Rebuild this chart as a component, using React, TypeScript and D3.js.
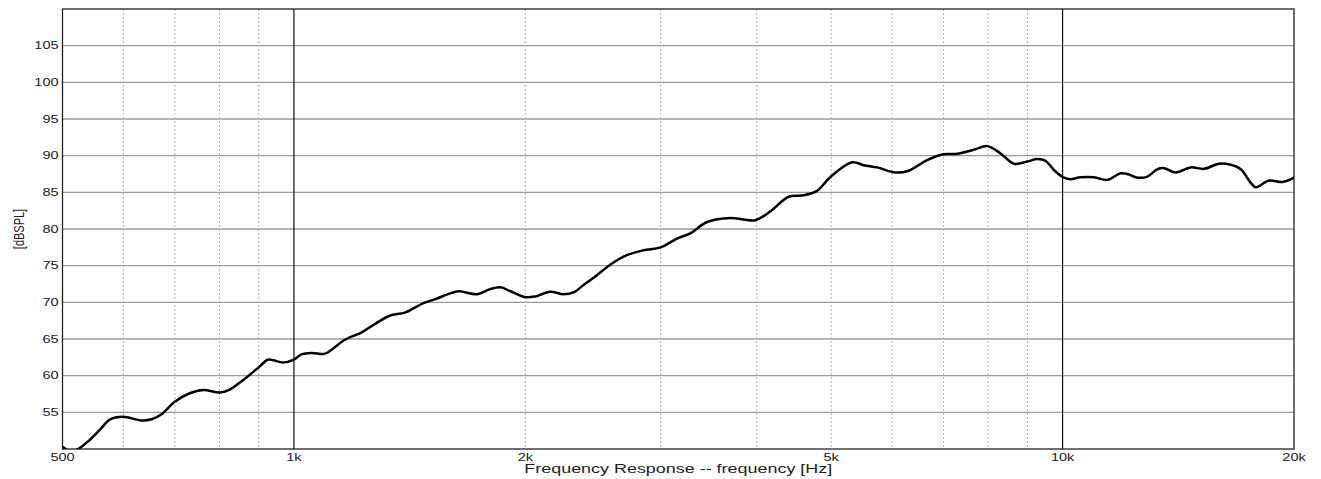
import React from 'react';
import * as d3 from 'd3';

// Frequency response samples
const FREQ_HZ = [
  500, 511, 522, 542, 559, 576, 599, 633, 653, 672, 700, 732, 762, 801, 825, 859, 899, 926, 940, 968,
  1000, 1023, 1054, 1092, 1108, 1165, 1225, 1275, 1334, 1395, 1474, 1534, 1581, 1637, 1730, 1800, 1855, 1911,
  2000, 2060, 2154, 2242, 2311, 2381, 2478, 2593, 2712, 2850, 3000, 3150, 3278, 3447, 3697, 3846, 3984,
  4167, 4401, 4604, 4793, 4988, 5324, 5513, 5738, 6060, 6307, 6664, 7004, 7293, 7664, 7980, 8305, 8643,
  8995, 9270, 9504, 9743, 10040, 10242, 10554, 10985, 11436, 11900, 12141, 12512, 12893, 13285, 13551,
  14034, 14678, 15276, 15976, 16548, 17051, 17570, 17835, 18560, 19322, 20000,
];
const SPL_DB = [
  50.3, 49.7, 49.9, 51.2, 52.6, 54.0, 54.4, 53.9, 54.05, 54.7, 56.45, 57.6, 58.05, 57.7, 58.1, 59.4, 61.1, 62.2, 62.1, 61.8,
  62.2, 62.9, 63.1, 62.95, 63.2, 64.9, 65.9, 67.05, 68.2, 68.6, 69.9, 70.5, 71.05, 71.5, 71.1, 71.8, 72.05, 71.55,
  70.7, 70.8, 71.45, 71.1, 71.35, 72.35, 73.7, 75.3, 76.45, 77.1, 77.5, 78.7, 79.4, 80.95, 81.5, 81.3, 81.2,
  82.4, 84.4, 84.6, 85.2, 87.1, 89.1, 88.7, 88.4, 87.7, 87.95, 89.4, 90.2, 90.25, 90.8, 91.3, 90.3, 88.9,
  89.2, 89.55, 89.3, 88.05, 87.0, 86.8, 87.05, 87.05, 86.7, 87.6, 87.5, 87.0, 87.15, 88.15, 88.3,
  87.7, 88.4, 88.2, 88.9, 88.75, 88.15, 86.3, 85.7, 86.6, 86.4, 87.0,
];

const X_LABEL_TICKS = [500, 1000, 2000, 5000, 10000, 20000];
const X_LABELS = ['500', '1k', '2k', '5k', '10k', '20k'];
const X_MINOR_GRID = [600, 700, 800, 900, 2000, 3000, 4000, 5000, 6000, 7000, 8000, 9000];
const X_MAJOR_GRID = [1000, 10000];
const Y_TICKS = [55, 60, 65, 70, 75, 80, 85, 90, 95, 100, 105];

const W = 1321;
const H = 479;
const margin = { top: 9, right: 27, bottom: 30, left: 62.5 };
const FONT = '"Liberation Sans", Arial, sans-serif';
const SX = 1.38; // text in the reference is stretched horizontally

export default function App() {
  const x = d3.scaleLog().domain([500, 20000]).range([margin.left, W - margin.right]);
  const y = d3.scaleLinear().domain([50, 110]).range([H - margin.bottom, margin.top]);
  const [x0, x1] = x.range();
  const [yb, yt] = y.range();

  const pts = FREQ_HZ.map((f, i) => [f, SPL_DB[i]] as [number, number]);
  const line = d3.line<[number, number]>()
    .x((d) => x(d[0]))
    .y((d) => y(d[1]))
    .curve(d3.curveCatmullRom.alpha(0.5));

  return (
    <svg width={W} height={H} style={{ position: 'absolute', left: 0, top: 0, background: '#fff' }}>
      <defs>
        <clipPath id="plot">
          <rect x={x0} y={yt} width={x1 - x0} height={yb - yt} />
        </clipPath>
      </defs>

      {/* horizontal grid */}
      {Y_TICKS.map((v) => (
        <line key={v} x1={x0} x2={x1} y1={y(v)} y2={y(v)} stroke="#9a9a9a" strokeWidth={1.3} />
      ))}
      {/* minor vertical grid */}
      {X_MINOR_GRID.map((f) => (
        <line key={f} x1={x(f)} x2={x(f)} y1={yt} y2={yb} stroke="#b4b4b4" strokeWidth={1} strokeDasharray="2,2" />
      ))}
      {X_MAJOR_GRID.map((f) => (
        <line key={f} x1={x(f)} x2={x(f)} y1={yt} y2={yb} stroke="#111" strokeWidth={1.2} />
      ))}

      {/* frame */}
      <rect x={x0} y={yt} width={x1 - x0} height={yb - yt} fill="none" stroke="#222" strokeWidth={1.3} />

      {/* response curve */}
      <path
        d={line(pts) || ''}
        fill="none"
        stroke="#000"
        strokeWidth={2.5}
        strokeLinejoin="round"
        strokeLinecap="round"
        clipPath="url(#plot)"
      />

      {/* y tick labels */}
      {Y_TICKS.map((v) => (
        <g key={v} transform={`translate(${x0 - 4},${y(v) + 3.8}) scale(${SX},1)`}>
          <text textAnchor="end" fontFamily={FONT} fontSize={10.5} fill="#222">{v}</text>
        </g>
      ))}

      {/* x tick labels */}
      {X_LABEL_TICKS.map((f, i) => (
        <g key={f} transform={`translate(${x(f)},${yb + 12}) scale(${SX},1)`}>
          <text textAnchor="middle" fontFamily={FONT} fontSize={10.5} fill="#222">{X_LABELS[i]}</text>
        </g>
      ))}

      {/* axis titles */}
      <g transform={`translate(${(x0 + x1) / 2},${yb + 24}) scale(${SX},1)`}>
        <text textAnchor="middle" fontFamily={FONT} fontSize={13} fill="#222">Frequency Response -- frequency [Hz]</text>
      </g>
      <g transform={`translate(24,${(yt + yb) / 2}) scale(1.3,1) rotate(-90)`}>
        <text textAnchor="middle" fontFamily={FONT} fontSize={11} fill="#222">[dBSPL]</text>
      </g>
    </svg>
  );
}
